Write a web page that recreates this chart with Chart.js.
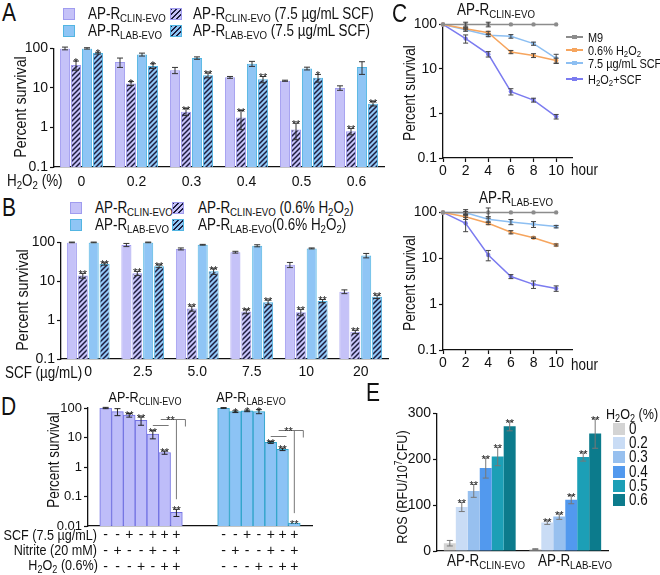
<!DOCTYPE html>
<html>
<head>
<meta charset="utf-8">
<script src="https://cdn.jsdelivr.net/npm/chart.js@4"></script>
<style>
  body { margin: 0; background: #fff; }
  #fig { position: relative; width: 660px; height: 575px; overflow: hidden; color: #111;
         font-family: "Liberation Sans", Arial, sans-serif; }
  #fig canvas { position: absolute; }
  .t { position: absolute; white-space: nowrap; line-height: 1; }
  .t sub { font-size: 72%; vertical-align: -0.3em; line-height: 0; }
  .t sup { font-size: 68%; vertical-align: 0.45em; line-height: 0; }
  .sw { position: absolute; box-sizing: border-box; }
</style>
</head>
<body>
<div id="fig"></div>
<script>
// ---- data ----
// panel A: survival (%) vs H2O2 (%), with / without 7.5 ug/mL SCF
const h2o2Levels = ["0", "0.2", "0.3", "0.4", "0.5", "0.6"];
const aClin = [100, 45, 28, 18.5, 15.2, 10];
const aClinErr = [8, 12, 5, 1, 0.5, 1.3];
const aClinScf = [38, 13, 2.5, 1.78, 0.89, 0.8];
const aClinScfErr = [10, 1.5, 0.5, 0.9, 0.4, 0.15];
const aClinScfSig = ["*", "*", "**", "**", "**", "**"];
const aLab = [100, 70, 57, 41, 31, 34];
const aLabErr = [4, 6, 4, 6, 2.5, 12];
const aLabScf = [76, 36, 21, 16.5, 18, 4];
const aLabScfErr = [4, 5, 3, 3, 4, 0.5];
const aLabScfSig = ["*", "*", "**", "**", "*", "**"];

// panel B: survival (%) vs SCF (ug/mL), with / without 0.6% H2O2
const scfLevels = ["0", "2.5", "5.0", "7.5", "10", "20"];
const bClin = [100, 86, 68, 56, 26.5, 5.4];
const bClinErr = [2, 8, 4, 3, 4, 0.6];
const bClinH2o2 = [14, 16, 2.0, 1.66, 1.6, 0.5];
const bClinH2o2Err = [2, 2, 0.3, 0.2, 0.3, 0.05];
const bLab = [100, 100, 87, 82, 70, 46];
const bLabErr = [2, 2, 2, 5, 2, 6];
const bLabH2o2 = [28, 24.5, 18, 2.9, 3.1, 4.0];
const bLabH2o2Err = [2, 2, 3, 0.4, 0.3, 0.4];
const bSig = ["**", "**", "**", "**", "**", "**"];

// panel C: time course (hour)
const hours = [0, 2, 4, 6, 8, 10];
const cClinM9 = [100, 100, 100, 100, 100, 100];
const cClinM9Err = [0, 12, 12, 0, 0, 0];
const cClinH2o2 = [100, 80, 65, 24, 20, 15.5];
const cClinH2o2Err = [0, 4, 5, 2, 2, 2];
const cClinScf = [100, 76, 57, 54, 37, 17.3];
const cClinScfErr = [0, 6, 4, 5, 3, 4];
const cClinBoth = [100, 48, 21.5, 3.1, 2.0, 0.85];
const cClinBothErr = [0, 10, 3, 0.5, 0.2, 0.1];
const cLabM9 = [100, 100, 100, 100, 100, 100];
const cLabM9Err = [0, 15, 25, 0, 0, 0];
const cLabH2o2 = [100, 80, 58, 37, 28, 19.5];
const cLabH2o2Err = [0, 10, 4, 3, 1, 1];
const cLabScf = [100, 98, 71, 62, 55, 49];
const cLabScfErr = [0, 6, 10, 8, 8, 3];
const cLabBoth = [100, 58, 11.8, 4.0, 2.7, 2.2];
const cLabBothErr = [0, 20, 3, 0.4, 0.5, 0.3];

// panel D: treatment combinations (7 per strain)
const dScf = ["-", "-", "+", "-", "+", "+", "+"];
const dNitrite = ["-", "+", "-", "-", "+", "-", "+"];
const dH2o2 = ["-", "-", "-", "+", "-", "+", "+"];
const dClin = [100, 75, 57, 38, 13, 3.1, 0.029];
const dClinErr = [5, 20, 8, 12, 4, 0.4, 0.008];
const dClinSig = ["", "", "**", "**", "**", "**", "**"];
const dLab = [100, 75, 80, 76, 6.8, 4.0, 0.0125];
const dLabErr = [3, 5, 5, 12, 0.5, 0.4, 0];
const dLabSig = ["", "*", "*", "*", "**", "**", "**"];

// panel E: ROS (RFU/10^7 CFU) by H2O2 (%)
const strains = ["CLIN-EVO", "LAB-EVO"];
const eLevels = ["0", "0.2", "0.3", "0.4", "0.5", "0.6"];
const eClin = [17, 96, 131, 181, 206, 272];
const eClinErr = [6, 10, 14, 22, 20, 10];
const eLab = [4, 62, 75, 112, 205, 256];
const eLabErr = [1, 4, 6, 9, 9, 32];
const eSig = ["", "**", "**", "**", "**", "**"];

// ---- styles ----
const FONT = '"Liberation Sans", Arial, sans-serif';
const ink = "#111";
const clinFill = "#c5c2f8", clinEdge = "#a09cef";
const labFill = "#8fc5f5", labEdge = "#52b5e2";
const hatchInk = "#1d1d3e";
const dClinFill = "#bebdf9", dClinEdge = "#7272e2";
const dLabFill = "#8cc3f5", dLabEdge = "#2ea4c9";
const cM9 = "#8c8c8c", cH2o2 = "#f6a55e", cScf = "#8dbff2", cBoth = "#7b7bf0";
const eColors = ["#d4d4d4", "#c9dcf5", "#97c0ef", "#5299ee", "#1c9fb6", "#0c7b8c"];
const NARROW = 0.84; // the figure's type is condensed

Chart.defaults.font.family = FONT;
Chart.defaults.color = ink;

const fig = document.getElementById("fig");

function text(html, x, y, size, anchor, rot) {
  const d = document.createElement("div");
  d.className = "t";
  d.innerHTML = html;
  d.style.left = x + "px";
  d.style.top = y + "px";
  d.style.fontSize = size + "px";
  const tx = anchor === "l" ? "0" : anchor === "r" ? "-100%" : "-50%";
  d.style.transformOrigin = (anchor === "l" ? "left" : anchor === "r" ? "right" : "center") + " center";
  d.style.transform = "translate(" + tx + ",-50%)" + (rot ? " rotate(-90deg)" : "") + " scaleX(" + NARROW + ")";
  fig.appendChild(d);
  return d;
}

function swatch(x, y, w, h, bg, edge) {
  const d = document.createElement("div");
  d.className = "sw";
  Object.assign(d.style, { left: x + "px", top: y + "px", width: w + "px", height: h + "px", background: bg });
  if (edge) d.style.border = "1px solid " + edge;
  fig.appendChild(d);
}

function cssHatch(bg) {
  return "repeating-linear-gradient(135deg," + hatchInk + " 0 1.4px," + bg + " 1.4px 3.4px)";
}

function hatch(bg) {
  const c = document.createElement("canvas");
  c.width = c.height = 5;
  const g = c.getContext("2d");
  g.fillStyle = bg;
  g.fillRect(0, 0, 5, 5);
  g.strokeStyle = hatchInk;
  g.lineWidth = 1.5;
  g.beginPath();
  g.moveTo(0, 5); g.lineTo(5, 0);
  g.moveTo(-1, 1); g.lineTo(1, -1);
  g.moveTo(4, 6); g.lineTo(6, 4);
  g.stroke();
  return g.createPattern(c, "repeat");
}

function canvas(x, y, w, h) {
  const c = document.createElement("canvas");
  c.width = w; c.height = h;
  c.style.left = x + "px"; c.style.top = y + "px";
  fig.appendChild(c);
  return c.getContext("2d");
}

// error bars + significance stars from dataset.errs / dataset.stars
const errBars = {
  id: "errBars",
  afterDatasetsDraw(chart) {
    const ctx = chart.ctx, ys = chart.scales.y;
    chart.data.datasets.forEach((ds, di) => {
      if (!ds.errs && !ds.stars) return;
      const meta = chart.getDatasetMeta(di);
      meta.data.forEach((el, i) => {
        const d = ds.data[i];
        if (d == null) return;
        const v = typeof d === "object" ? d.y : d;
        const e = ds.errs ? ds.errs[i] : 0;
        const x = el.x, cap = ds.cap || 3;
        let top = v;
        if (e) {
          const lo = Math.max(v - e, ys.min * 1.0001);
          const y1 = ys.getPixelForValue(v + e), y2 = ys.getPixelForValue(lo);
          ctx.save();
          ctx.strokeStyle = ds.errColor || "#333";
          ctx.lineWidth = 1;
          ctx.beginPath();
          ctx.moveTo(x, y1); ctx.lineTo(x, y2);
          ctx.moveTo(x - cap, y1); ctx.lineTo(x + cap, y1);
          ctx.moveTo(x - cap, y2); ctx.lineTo(x + cap, y2);
          ctx.stroke();
          ctx.restore();
          top = v + e;
        }
        if (ds.stars && ds.stars[i]) {
          ctx.save();
          ctx.fillStyle = "#222";
          ctx.font = "11px " + FONT;
          ctx.textAlign = "center";
          ctx.textBaseline = "alphabetic";
          ctx.fillText(ds.stars[i], x, ys.getPixelForValue(top) + 5);
          ctx.restore();
        }
      });
    });
  }
};

function logAxis(width, ticks, size) {
  return {
    type: "logarithmic",
    min: ticks[0],
    max: ticks[ticks.length - 1],
    afterFit: s => { s.width = width; },
    afterBuildTicks: s => { s.ticks = ticks.map(v => ({ value: v })); },
    ticks: { callback: v => String(v), font: { size: size || 14 }, color: ink, padding: 2 },
    grid: { drawOnChartArea: false, color: ink, tickLength: 4, tickWidth: 1.2 },
    border: { color: ink, width: 1.3 }
  };
}

function catAxis(height, size, pad) {
  return {
    type: "category",
    offset: true,
    afterFit: s => { s.height = height; },
    grid: { display: false, drawTicks: false },
    border: { color: ink, width: 1.3 },
    ticks: { font: { size: size, lineHeight: 1.15 }, padding: pad, color: ink, maxRotation: 0, autoSkip: false }
  };
}

function baseOptions(scales, padTop, padRight) {
  return {
    responsive: false,
    animation: false,
    devicePixelRatio: 1,
    layout: { padding: { top: padTop, right: padRight, left: 0, bottom: 0 } },
    plugins: { legend: { display: false }, tooltip: { enabled: false } },
    scales: scales
  };
}

function barSet(data, errs, stars, fill, edge) {
  return { data: data, errs: errs, stars: stars, backgroundColor: fill, borderColor: edge,
           borderWidth: 1, barPercentage: 0.92, categoryPercentage: 0.8, cap: 3 };
}

// ---- panel A ----
new Chart(canvas(0, 38, 392, 154), {
  type: "bar",
  data: {
    labels: h2o2Levels,
    datasets: [
      barSet(aClin, aClinErr, null, clinFill, clinEdge),
      barSet(aClinScf, aClinScfErr, aClinScfSig, hatch(clinFill), clinEdge),
      barSet(aLab, aLabErr, null, labFill, labEdge),
      barSet(aLabScf, aLabScfErr, aLabScfSig, hatch(labFill), labEdge)
    ]
  },
  options: baseOptions({ y: logAxis(54, [0.1, 1, 10, 100]), x: catAxis(25, 14, 7) }, 10, 8),
  plugins: [errBars]
});

// ---- panel B ----
new Chart(canvas(0, 232, 396, 150), {
  type: "bar",
  data: {
    labels: scfLevels,
    datasets: [
      barSet(bClin, bClinErr, null, clinFill, clinEdge),
      barSet(bClinH2o2, bClinH2o2Err, bSig, hatch(clinFill), clinEdge),
      barSet(bLab, bLabErr, null, labFill, labEdge),
      barSet(bLabH2o2, bLabH2o2Err, bSig, hatch(labFill), labEdge)
    ]
  },
  options: baseOptions({ y: logAxis(61, [0.1, 1, 10, 100]), x: catAxis(23, 14, 5) }, 10, 8),
  plugins: [errBars]
});

// ---- panel C ----
function lineSet(vals, errs, color) {
  return {
    data: hours.map((h, i) => ({ x: h, y: vals[i] })),
    errs: errs, errColor: "#444", cap: 2.5,
    borderColor: color, backgroundColor: color, borderWidth: 1.5,
    pointRadius: 2.2, pointBorderWidth: 0, tension: 0, clip: false
  };
}

function hourAxis() {
  return {
    type: "linear",
    min: 0,
    max: 11.4,
    afterFit: s => { s.height = 22; },
    afterBuildTicks: s => { s.ticks = hours.map(v => ({ value: v })); },
    ticks: { font: { size: 14 }, color: ink, padding: 1, maxRotation: 0 },
    grid: { drawOnChartArea: false, color: ink, tickLength: 4, tickWidth: 1.2 },
    border: { color: ink, width: 1.3 }
  };
}

new Chart(canvas(395, 14, 181, 166), {
  type: "line",
  data: {
    datasets: [
      lineSet(cClinM9, cClinM9Err, cM9),
      lineSet(cClinH2o2, cClinH2o2Err, cH2o2),
      lineSet(cClinScf, cClinScfErr, cScf),
      lineSet(cClinBoth, cClinBothErr, cBoth)
    ]
  },
  options: baseOptions({ y: logAxis(48, [0.1, 1, 10, 100]), x: hourAxis() }, 10, 4),
  plugins: [errBars]
});

new Chart(canvas(395, 202, 181, 170), {
  type: "line",
  data: {
    datasets: [
      lineSet(cLabM9, cLabM9Err, cM9),
      lineSet(cLabH2o2, cLabH2o2Err, cH2o2),
      lineSet(cLabScf, cLabScfErr, cScf),
      lineSet(cLabBoth, cLabBothErr, cBoth)
    ]
  },
  options: baseOptions({ y: logAxis(48, [0.1, 1, 10, 100]), x: hourAxis() }, 10, 4),
  plugins: [errBars]
});

// ---- panel D ----
const combos = dScf.map((s, i) => [s, dNitrite[i], dH2o2[i]]);
const dLabels = [""].concat(combos, ["", "", ""], combos, [""]);
const pad = (before, vals, after) => Array(before).fill(null).concat(vals, Array(after).fill(null));
const dClinData = pad(1, dClin, 11);
const dLabData = pad(11, dLab, 1);

const brackets = {
  id: "brackets",
  afterDatasetsDraw(chart) {
    const ctx = chart.ctx, xs = chart.scales.x, ys = chart.scales.y;
    const groups = [{ first: 1, y: 26, topOf7: dClin[6] + dClinErr[6] }, { first: 11, y: 11, topOf7: dLab[6] + dLabErr[6] }];
    ctx.save();
    ctx.strokeStyle = "#777";
    ctx.lineWidth = 1;
    groups.forEach(g => {
      const x5 = xs.getPixelForValue(g.first + 4), x6 = xs.getPixelForValue(g.first + 5), x7 = xs.getPixelForValue(g.first + 6);
      const y1 = Math.round(ys.getPixelForValue(g.y)) + 0.5, y2 = y1 - 6;
      const yEnd = ys.getPixelForValue(g.topOf7) - 10;
      ctx.beginPath();
      ctx.moveTo(x5, y1); ctx.lineTo(x6 + 4, y1);
      ctx.moveTo((x5 + x6) / 2 + 2, y2); ctx.lineTo(x7 + 9, y2); ctx.lineTo(x7 + 9, y2 + 7);
      ctx.moveTo(x7, y2); ctx.lineTo(x7, yEnd);
      ctx.stroke();
      ctx.fillStyle = "#222";
      ctx.font = "11px " + FONT;
      ctx.textAlign = "center";
      ctx.fillText("**", (x6 + x7) / 2, y2 + 4);
    });
    ctx.restore();
  }
};

new Chart(canvas(18, 398, 298, 178), {
  type: "bar",
  data: {
    labels: dLabels,
    datasets: [
      { data: dClinData, errs: pad(1, dClinErr, 11), stars: pad(1, dClinSig, 11), grouped: false,
        backgroundColor: dClinFill, borderColor: dClinEdge, borderWidth: 1, barPercentage: 1, categoryPercentage: 1, cap: 3, errColor: "#222" },
      { data: dLabData, errs: pad(11, dLabErr, 1), stars: pad(11, dLabSig, 1), grouped: false,
        backgroundColor: dLabFill, borderColor: dLabEdge, borderWidth: 1, barPercentage: 1, categoryPercentage: 1, cap: 3, errColor: "#222" }
    ]
  },
  options: baseOptions({ y: logAxis(70, [0.01, 0.1, 1, 10, 100], 13), x: catAxis(50, 14, 1) }, 10, 4),
  plugins: [errBars, brackets]
});

// ---- panel E ----
new Chart(canvas(380, 403, 231, 168), {
  type: "bar",
  data: {
    labels: strains,
    datasets: eLevels.map((lv, i) => ({
      label: lv,
      data: [eClin[i], eLab[i]],
      errs: [eClinErr[i], eLabErr[i]],
      stars: [eSig[i], eSig[i]],
      backgroundColor: eColors[i],
      borderWidth: 0,
      barPercentage: 1,
      categoryPercentage: 0.84,
      errColor: "#777",
      cap: 3
    }))
  },
  options: baseOptions({
    y: {
      min: 0, max: 300,
      afterFit: s => { s.width = 57; },
      afterBuildTicks: s => { s.ticks = [0, 100, 200, 300].map(v => ({ value: v })); },
      ticks: { font: { size: 14 }, color: ink, padding: 2 },
      grid: { drawOnChartArea: false, color: ink, tickLength: 4, tickWidth: 1.2 },
      border: { color: ink, width: 1.3 }
    },
    x: Object.assign(catAxis(20, 14, 4), { ticks: { display: false } })
  }, 10, 3),
  plugins: [errBars]
});

// ---- text, legends, labels ----
const clinName = "AP-R<sub>CLIN-EVO</sub>";
const labName = "AP-R<sub>LAB-EVO</sub>";
const h2o2 = "H<sub>2</sub>O<sub>2</sub>";

text("A", 2, 12, 25, "l");
text("B", 2, 207, 25, "l");
text("C", 392, 13, 25, "l");
text("D", 1, 406, 25, "l");
text("E", 366, 392, 25, "l");

// A legend
swatch(63, 8, 12, 12, clinFill, clinEdge);
text(clinName, 88, 14, 16, "l");
swatch(170, 8, 12, 12, cssHatch(clinFill), clinEdge);
text(clinName + " (7.5 µg/mL SCF)", 193, 14, 16, "l");
swatch(63, 25, 12, 12, labFill, labEdge);
text(labName, 88, 31, 16, "l");
swatch(170, 25, 12, 12, cssHatch(labFill), labEdge);
text(labName + " (7.5 µg/mL SCF)", 193, 31, 16, "l");
text("Percent survival", 20, 107, 17, "c", true);
text(h2o2 + " (%)", 7, 181, 16, "l");

// B legend
swatch(70, 202, 12, 12, clinFill, clinEdge);
text(clinName, 95, 208, 16, "l");
swatch(172, 202, 12, 12, cssHatch(clinFill), clinEdge);
text(clinName + " (0.6% " + h2o2 + ")", 198, 208, 16, "l");
swatch(70, 219, 12, 12, labFill, labEdge);
text(labName, 95, 225, 16, "l");
swatch(172, 219, 12, 12, cssHatch(labFill), labEdge);
text(labName + "(0.6% " + h2o2 + ")", 198, 225, 16, "l");
text("Percent survival", 22, 300, 17, "c", true);
text("SCF (µg/mL)", 5, 373, 16, "l");

// C
text(clinName, 496, 10, 16, "c");
text(labName, 516, 198, 16, "c");
text("Percent survival", 410, 93, 16, "c", true);
text("Percent survival", 410, 283, 16, "c", true);
text("hour", 571, 170, 16, "l");
text("hour", 571, 365, 16, "l");
const cLegend = [["M9", cM9], ["0.6% H<sub>2</sub>O<sub>2</sub>", cH2o2], ["7.5 µg/mL SCF", cScf], [" " + h2o2 + "+SCF", cBoth]];
const cLegendY = [37, 50, 63, 79];
cLegend.forEach((item, i) => {
  swatch(566, cLegendY[i] - 1, 17, 1.6, item[1]);
  swatch(572, cLegendY[i] - 2.5, 4.5, 4.5, item[1]);
  text(item[0], 588, cLegendY[i], 13, "l");
});

// D
text(clinName, 145, 396, 15, "c");
text(labName, 251, 396, 15, "c");
text("Percent survival", 54, 460, 16, "c", true);
text("SCF (7.5 µg/mL)", 97, 534, 15, "r");
text("Nitrite (20 mM)", 97, 549, 15, "r");
text(h2o2 + " (0.6%)", 98, 564, 15, "r");

// E
text("ROS (RFU/10<sup>7</sup>CFU)", 401, 487, 15, "c", true);
text(clinName, 486, 561, 16, "c");
text(labName, 575, 561, 16, "c");
text(h2o2 + " (%)", 606, 413, 15, "l");
eLevels.forEach((lv, i) => {
  const y = 429 + i * 14.2;
  swatch(613, y - 6, 12, 12, eColors[i]);
  text(lv, 629, y, 16, "l");
});
</script>
</body>
</html>
